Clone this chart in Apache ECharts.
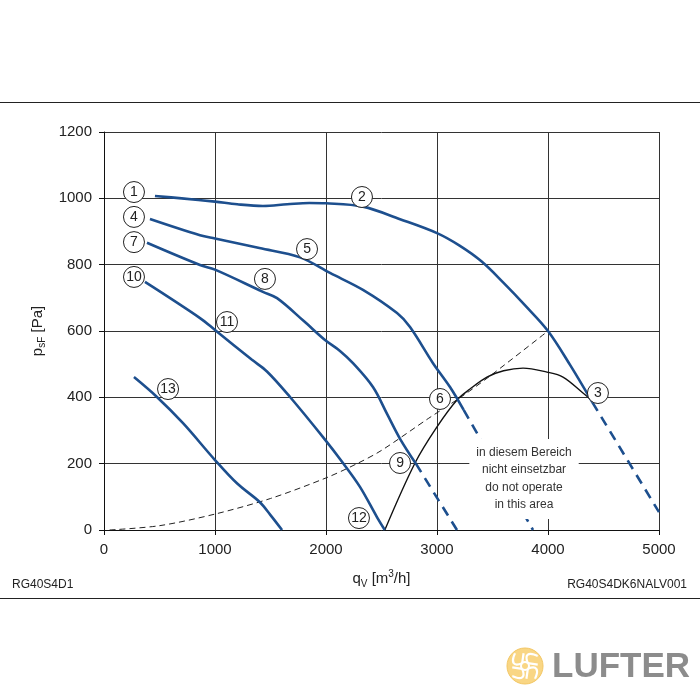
<!DOCTYPE html>
<html>
<head>
<meta charset="utf-8">
<script src="https://cdn.jsdelivr.net/npm/echarts@6/dist/echarts.min.js"></script>
<style>html,body{margin:0;padding:0;background:#fff;}#c{width:700px;height:700px;}</style>
</head>
<body>
<div id="c"></div>
<script>
// ---- data (q_V [m3/h], p_sF [Pa]) ----
const xTicks = [0, 1000, 2000, 3000, 4000, 5000];
const yTicks = [0, 200, 400, 600, 800, 1000, 1200];

const curve123 = [[459,1007],[700,1000],[1000,990],[1200,982],[1432,977],[1650,982],[1850,986],[2000,985],[2333,975],[2667,937],[3000,895],[3200,858],[3400,810],[3600,745],[3800,675],[4000,600],[4200,497],[4400,385]];
const curve3Dash = [[4400,385],[5000,54]];

const curve456 = [[414,938],[865,889],[1000,879],[1400,850],[1766,822],[2036,775],[2333,724],[2640,654],[2757,612],[2964,503],[3117,431],[3240,362]];
const curve6Dash = [[3240,362],[3865,0]];

const curve789 = [[387,866],[865,799],[1000,785],[1432,718],[1559,699],[1800,630],[1991,573],[2126,540],[2243,503],[2423,431],[2550,350],[2667,275],[2810,200]];
const curve9Dash = [[2810,200],[3180,0]];

const curve101112 = [[369,748],[865,639],[1000,603],[1333,513],[1468,478],[1676,401],[1973,280],[2153,202],[2306,130],[2459,39],[2530,0]];

const curve13 = [[270,461],[477,401],[712,322],[1000,211],[1200,140],[1400,85],[1500,45],[1604,0]];

const limitCurve = [[2530,0],[2802,202],[3000,311],[3180,392],[3297,425],[3450,461],[3600,480],[3775,488],[3991,476],[4135,461],[4315,413],[4390,392]];

const systemCurve = [[50,0],[500,13],[1000,48],[1500,95],[2000,157],[2279,200],[2500,240],[2921,336],[3234,405],[3500,470],[4000,600]];

const markerNames = ['1','2','3','4','5','6','7','8','9','10','11','12','13'];
const markerQ = [270, 2324, 4450, 270, 1829, 3027, 270, 1450, 2667, 270, 1108, 2297, 577];
const markerP = [1019, 1004, 413, 944, 847, 395, 868, 757, 202, 763, 627, 36, 425];

const noteLines = ['in diesem Bereich', 'nicht einsetzbar', 'do not operate', 'in this area'];
const notePos = [3784, 154];
const leftCode = 'RG40S4D1';
const rightCode = 'RG40S4DK6NALV001';

// ---- chart ----
const FONT = '"Liberation Sans", Arial, sans-serif';
const BLUE = '#1d4f8e';
const chart = echarts.init(document.getElementById('c'), null, {renderer: 'canvas'});

function blueLine(data, dashed) {
  return {type: 'line', data: data, smooth: dashed ? false : 0.35, symbol: 'none', silent: true, z: 3,
    lineStyle: {color: BLUE, width: 2.6, type: dashed ? [10, 7] : 'solid'}};
}

const markerData = markerNames.map((n, i) => [markerQ[i], markerP[i], n]);

const option = {
  animation: false,
  backgroundColor: '#fff',
  grid: {left: 104, right: 41, top: 132, bottom: 170},
  xAxis: {
    type: 'value', min: xTicks[0], max: xTicks[xTicks.length - 1], interval: 1000,
    axisLine: {show: true, lineStyle: {color: '#111', width: 1}},
    axisTick: {show: true, length: 5, lineStyle: {color: '#111'}},
    splitLine: {show: true, lineStyle: {color: '#333', width: 1}},
    axisLabel: {color: '#222', fontSize: 15, fontFamily: FONT, margin: 12, formatter: v => String(v)},
    name: '{b|q}{s|V}{b| [m}{sup|3}{b|/h]}', nameLocation: 'middle', nameGap: 39,
    nameTextStyle: {rich: {
      b: {fontSize: 15, fontFamily: FONT, color: '#222', lineHeight: 20, verticalAlign: 'middle'},
      s: {fontSize: 10, fontFamily: FONT, color: '#222', lineHeight: 20, verticalAlign: 'bottom'},
      sup: {fontSize: 10, fontFamily: FONT, color: '#222', lineHeight: 20, verticalAlign: 'top'}
    }}
  },
  yAxis: {
    type: 'value', min: yTicks[0], max: yTicks[yTicks.length - 1], interval: 200,
    axisLine: {show: true, lineStyle: {color: '#111', width: 1}},
    axisTick: {show: true, length: 5, lineStyle: {color: '#111'}},
    splitLine: {show: true, lineStyle: {color: '#333', width: 1}},
    axisLabel: {color: '#222', fontSize: 15, fontFamily: FONT, margin: 12, formatter: v => String(v)},
    name: '{b|p}{s|sF}{b| [Pa]}', nameLocation: 'middle', nameGap: 53,
    nameTextStyle: {rich: {
      b: {fontSize: 15, fontFamily: FONT, color: '#222', lineHeight: 20, verticalAlign: 'middle'},
      s: {fontSize: 10, fontFamily: FONT, color: '#222', lineHeight: 20, verticalAlign: 'bottom'}
    }}
  },
  series: [
    {type: 'line', data: systemCurve, smooth: 0.3, symbol: 'none', silent: true, z: 2,
      lineStyle: {color: '#222', width: 1, type: [6, 4]}},
    {type: 'line', data: limitCurve, smooth: 0.35, symbol: 'none', silent: true, z: 2,
      lineStyle: {color: '#111', width: 1.4}},
    blueLine(curve123, false), blueLine(curve3Dash, true),
    blueLine(curve456, false), blueLine(curve6Dash, true),
    blueLine(curve789, false), blueLine(curve9Dash, true),
    blueLine(curve101112, false),
    blueLine(curve13, false),
    {type: 'scatter', data: markerData, symbol: 'circle', symbolSize: 21, silent: true, z: 10,
      itemStyle: {color: '#fff', borderColor: '#222', borderWidth: 1, opacity: 1},
      label: {show: true, position: 'inside', formatter: p => p.data[2], color: '#222', fontSize: 14, fontFamily: FONT}}
  ]
};
chart.setOption(option);

const np = chart.convertToPixel({gridIndex: 0}, notePos);

// simple fan logo
const logoBlades = [];
for (let k = 0; k < 4; k++) {
  const a = k * Math.PI / 2 + Math.PI / 4;
  const c = Math.cos(a), s = Math.sin(a);
  const rot = (x, y) => [x * c - y * s, x * s + y * c];
  const p0 = rot(4, 0), p1 = rot(10, -6), p2 = rot(16, 2), p3 = rot(10, 8);
  logoBlades.push({type: 'polyline', shape: {points: [p0, p1, p2], smooth: 0.6},
    style: {stroke: '#fff', lineWidth: 2.2, fill: null}});
  logoBlades.push({type: 'polyline', shape: {points: [p0, p3], smooth: 0},
    style: {stroke: '#fff', lineWidth: 2.2, fill: null}});
}

chart.setOption({
  graphic: [
    {type: 'line', shape: {x1: 0, y1: 102.5, x2: 700, y2: 102.5}, style: {stroke: '#222', lineWidth: 1}, silent: true},
    {type: 'line', shape: {x1: 0, y1: 598.5, x2: 700, y2: 598.5}, style: {stroke: '#222', lineWidth: 1}, silent: true},
    {type: 'text', x: 12, y: 585, silent: true,
      style: {text: leftCode, fill: '#222', fontSize: 12, fontFamily: FONT, align: 'left', verticalAlign: 'middle'}},
    {type: 'text', x: 687, y: 585, silent: true,
      style: {text: rightCode, fill: '#222', fontSize: 12, fontFamily: FONT, align: 'right', verticalAlign: 'middle'}},
    {type: 'text', x: np[0], y: np[1], z: 50, silent: true,
      style: {text: noteLines.join('\n'), fill: '#333', fontSize: 12, fontFamily: FONT, align: 'center', verticalAlign: 'middle',
        lineHeight: 17.5, backgroundColor: '#fff', padding: [5, 7]}},
    {type: 'group', x: 525, y: 666, silent: true, children: [
      {type: 'circle', shape: {cx: 0, cy: 0, r: 18}, style: {fill: '#f9d684', stroke: '#f3c765', lineWidth: 1}},
      {type: 'circle', shape: {cx: 0, cy: 0, r: 4}, style: {fill: '#f9d684', stroke: '#fff', lineWidth: 2}}
    ].concat(logoBlades)},
    {type: 'text', x: 552, y: 667, silent: true,
      style: {text: 'LUFTER', fill: '#8c8c8c', fontSize: 35, fontWeight: 'bold', fontFamily: FONT, align: 'left', verticalAlign: 'middle'}}
  ]
});
</script>
</body>
</html>
